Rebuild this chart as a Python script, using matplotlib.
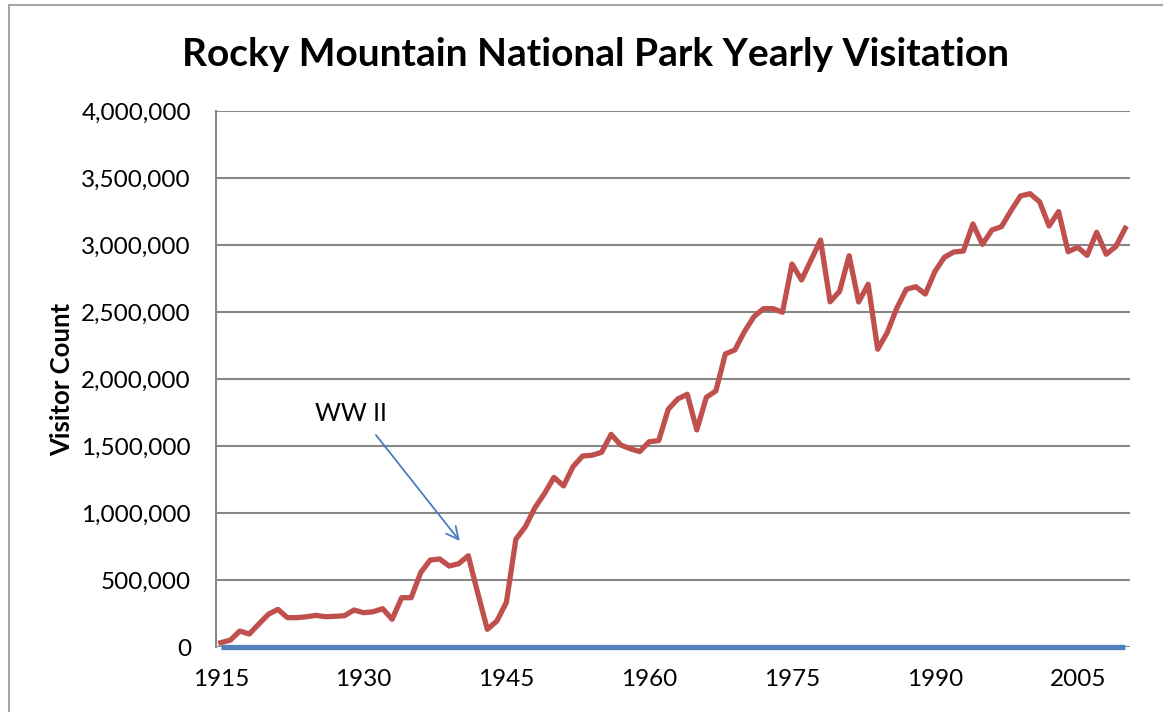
import matplotlib
matplotlib.use("Agg")
import matplotlib.pyplot as plt
from matplotlib.patches import Rectangle
from matplotlib.ticker import FuncFormatter

# Yearly visitation
years = list(range(1915, 2011))
visitors = [
    32000, 51000, 119000, 97000, 172000, 244000, 281000, 219000, 219000, 226000,
    236000, 226000, 229000, 234000, 276000, 256000, 263000, 286000, 207000, 368000,
    368000, 555000, 649000, 657000, 604000, 622000, 681000, 400000, 132000, 194000,
    333000, 805000, 898000, 1040000, 1145000, 1266000, 1202000, 1346000, 1425000, 1431000,
    1453000, 1587000, 1508000, 1480000, 1458000, 1532000, 1540000, 1774000, 1851000, 1886000,
    1620000, 1863000, 1911000, 2187000, 2217000, 2353000, 2465000, 2525000, 2525000, 2498000,
    2858000, 2739000, 2888000, 3037000, 2576000, 2655000, 2920000, 2575000, 2707000, 2222000,
    2346000, 2528000, 2669000, 2689000, 2634000, 2801000, 2908000, 2948000, 2955000, 3157000,
    3005000, 3112000, 3137000, 3256000, 3366000, 3383000, 3323000, 3142000, 3249000, 2950000,
    2983000, 2923000, 3095000, 2931000, 2988000, 3125000,
]
baseline = [0] * len(years)
tick_years = [1915, 1930, 1945, 1960, 1975, 1990, 2005]

plt.rcParams['font.family'] = ['Lato', 'DejaVu Sans']

W, H = 1163, 712
fig = plt.figure(figsize=(W / 100, H / 100), dpi=100)
ax = fig.add_axes([216 / W, 1 - 647 / H, (1130 - 216) / W, (647 - 111) / H])

# outer chart border
fig.patches.append(Rectangle((9 / W, -0.05), 1.1, 1 - 5 / H + 0.05, transform=fig.transFigure,
                             fill=False, edgecolor="#a6a6a6", linewidth=1.5))

ax.plot(years, baseline, color="#4F81BD", linewidth=3.8, solid_capstyle="butt",
        zorder=3, clip_on=False)
ax.plot(years, visitors, color="#C0504D", linewidth=3.8, solid_joinstyle="round",
        zorder=4, clip_on=False)

ax.set_xlim(years[0] - 0.5, years[-1] + 0.5)
ax.set_ylim(0, 4000000)
ax.set_yticks(range(0, 4000001, 500000))
ax.yaxis.set_major_formatter(FuncFormatter(lambda v, p: f"{int(v):,}"))
ax.set_xticks(tick_years)
ax.tick_params(length=0, labelsize=17.5)
ax.tick_params(axis="x", pad=16)
ax.tick_params(axis="y", pad=18)
ax.grid(axis="y", color="#878787", linewidth=1.5)
ax.set_axisbelow(True)
for s in ["top", "right", "bottom"]:
    ax.spines[s].set_visible(False)
ax.spines["left"].set_color("#878787")
ax.spines["left"].set_linewidth(1.5)

ax.set_ylabel("Visitor Count", fontsize=18.5, fontweight="bold")
ax.yaxis.set_label_coords(-142 / (1130 - 216), 0.5)

fig.text(595 / W, 1 - 55 / H, "Rocky Mountain National Park Yearly Visitation",
         ha="center", va="center", fontsize=28, fontweight="bold")

# WW II callout
ax.text(1928.7, 1746000, "WW II", fontsize=18, ha="center", va="center")
ax.annotate("", xy=(1940.1, 791000), xytext=(1931.3, 1582000),
            arrowprops=dict(arrowstyle="->", color="#4a7ebb", lw=1.3,
                            shrinkA=0, shrinkB=0, mutation_scale=22))

fig.savefig("out.png", dpi=100)
